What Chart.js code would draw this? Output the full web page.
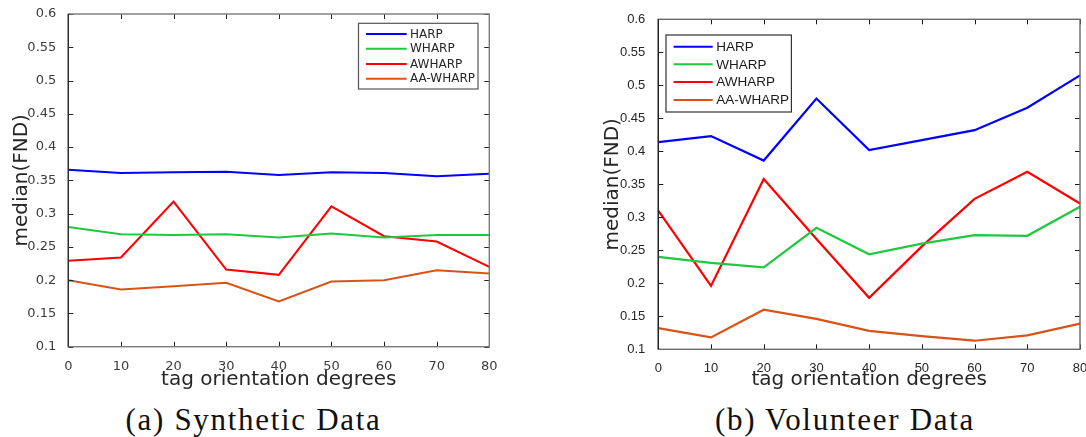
<!DOCTYPE html>
<html>
<head>
<meta charset="utf-8">
<script src="https://cdn.jsdelivr.net/npm/chart.js@4.4.1/dist/chart.umd.min.js"></script>
<style>
  html, body { margin: 0; padding: 0; background: #fff; overflow: hidden; }
  #page { position: relative; width: 1086px; height: 437px; }
  canvas { position: absolute; top: 0; }
  #synthCanvas { left: 0; }
  #volCanvas { left: 543px; }
  .caption {
    position: absolute; top: 405px; height: 32px; line-height: 30px;
    font-family: "Liberation Serif", serif; font-size: 31px; color: #111;
    letter-spacing: 1.7px; text-align: center; white-space: nowrap;
  }
  #capA { left: 0; width: 507px; }
  #capB { left: 591px; width: 508px; }
</style>
</head>
<body>
<div id="page">
  <canvas id="synthCanvas" width="543" height="400"></canvas>
  <canvas id="volCanvas" width="560" height="400"></canvas>
  <div class="caption" id="capA">(a) Synthetic Data</div>
  <div class="caption" id="capB">(b) Volunteer Data</div>
</div>
<script>
// Tag orientation (degrees) on the x axis
const orientationDeg = ['0', '10', '20', '30', '40', '50', '60', '70', '80'];
// y axis tick labels
const yTickLabels = ['0.1', '0.15', '0.2', '0.25', '0.3', '0.35', '0.4', '0.45', '0.5', '0.55', '0.6'];
const seriesNames = ['HARP', 'WHARP', 'AWHARP', 'AA-WHARP'];

// Median FND, synthetic data
const synHARP    = [0.366, 0.361, 0.362, 0.363, 0.358, 0.362, 0.361, 0.356, 0.360];
const synWHARP   = [0.280, 0.269, 0.268, 0.269, 0.264, 0.270, 0.264, 0.268, 0.268];
const synAWHARP  = [0.229, 0.234, 0.318, 0.216, 0.208, 0.311, 0.266, 0.258, 0.220];
const synAAWHARP = [0.200, 0.186, 0.191, 0.196, 0.168, 0.198, 0.200, 0.215, 0.210];

// Median FND, volunteer data
const volHARP    = [0.414, 0.423, 0.386, 0.480, 0.402, 0.417, 0.432, 0.466, 0.515];
const volWHARP   = [0.240, 0.231, 0.224, 0.284, 0.244, 0.260, 0.273, 0.272, 0.316];
const volAWHARP  = [0.310, 0.196, 0.358, 0.267, 0.178, 0.256, 0.328, 0.369, 0.321];
const volAAWHARP = [0.132, 0.118, 0.160, 0.146, 0.128, 0.120, 0.113, 0.121, 0.139];

const lineColors = ['#0000ff', '#20c840', '#ff0000', '#d95319'];

// Boxed axes with inward ticks on all four sides, plus a framed legend
const boxedAxes = {
  id: 'boxedAxes',
  afterDatasetsDraw(chart, args, o) {
    const { ctx, chartArea: a, scales: { x, y } } = chart;
    const L = 5;
    ctx.save();
    ctx.strokeStyle = o.tickColor;
    ctx.lineWidth = 1;
    ctx.beginPath();
    x.ticks.forEach((t, i) => {
      const px = Math.round(x.getPixelForTick(i)) + 0.5;
      ctx.moveTo(px, a.bottom); ctx.lineTo(px, a.bottom - L);
      ctx.moveTo(px, a.top); ctx.lineTo(px, a.top + L);
    });
    y.ticks.forEach((t, i) => {
      const py = Math.round(y.getPixelForTick(i)) + 0.5;
      ctx.moveTo(a.left, py); ctx.lineTo(a.left + L, py);
      ctx.moveTo(a.right, py); ctx.lineTo(a.right - L, py);
    });
    ctx.stroke();

    ctx.strokeStyle = o.boxColor;
    ctx.lineWidth = 1.4;
    ctx.strokeRect(a.left, a.top, a.right - a.left, a.bottom - a.top);
    ctx.strokeStyle = o.axisColor;
    ctx.lineWidth = 1.2;
    ctx.beginPath();
    ctx.moveTo(a.left, a.top); ctx.lineTo(a.left, a.bottom);
    ctx.stroke();

    // legend
    const lg = o.legend;
    ctx.fillStyle = '#fff';
    ctx.fillRect(lg.x0, lg.y0, lg.x1 - lg.x0, lg.y1 - lg.y0);
    ctx.strokeStyle = lg.border;
    ctx.lineWidth = 1.2;
    ctx.strokeRect(lg.x0, lg.y0, lg.x1 - lg.x0, lg.y1 - lg.y0);
    ctx.font = lg.font;
    ctx.textBaseline = 'middle';
    ctx.textAlign = 'left';
    chart.data.datasets.forEach((ds, i) => {
      const ry = lg.rows[i];
      ctx.strokeStyle = ds.borderColor;
      ctx.lineWidth = 2;
      ctx.beginPath();
      ctx.moveTo(lg.lineX0, ry); ctx.lineTo(lg.lineX1, ry);
      ctx.stroke();
      ctx.fillStyle = lg.textColor;
      ctx.fillText(ds.label, lg.textX, ry + 0.5);
    });
    ctx.restore();
  }
};

function tickLabel(value) {
  const hit = yTickLabels.find(l => Math.abs(parseFloat(l) - value) < 1e-6);
  return hit === undefined ? '' : hit;
}

function makeChart(canvasId, series, cfg) {
  return new Chart(document.getElementById(canvasId), {
    type: 'line',
    data: {
      labels: orientationDeg,
      datasets: series.map((vals, i) => ({
        label: seriesNames[i],
        data: vals,
        borderColor: lineColors[i],
        backgroundColor: lineColors[i],
        borderWidth: cfg.lineWidth,
        pointRadius: 0,
        tension: 0,
        fill: false
      }))
    },
    options: {
      responsive: false,
      animation: false,
      devicePixelRatio: 1,
      layout: { padding: cfg.padding },
      plugins: {
        legend: { display: false },
        tooltip: { enabled: false },
        boxedAxes: cfg.frame
      },
      scales: {
        x: {
          type: 'category',
          offset: false,
          grid: { display: false },
          border: { display: false },
          ticks: {
            color: cfg.tickColor, padding: cfg.xTickPad, maxRotation: 0, autoSkip: false,
            font: { family: cfg.tickFamily, size: cfg.tickSize }
          },
          title: {
            display: true, text: 'tag orientation degrees', color: '#262626',
            font: { family: 'DejaVu Sans', size: 20, lineHeight: 1.2 },
            padding: { top: 0, bottom: cfg.xTitlePad }
          },
          afterFit(s) { s.height = cfg.xHeight; }
        },
        y: {
          min: 0.1, max: 0.6,
          grid: { display: false },
          border: { display: false },
          ticks: {
            stepSize: 0.05, color: cfg.tickColor, padding: cfg.yTickPad,
            font: { family: cfg.tickFamily, size: cfg.tickSize },
            callback: v => tickLabel(v)
          },
          title: {
            display: true, text: 'median(FND)', color: '#262626',
            font: { family: 'DejaVu Sans', size: 20, lineHeight: 1.2 },
            padding: { top: cfg.yTitlePad, bottom: 0 }
          },
          afterFit(s) { s.width = cfg.yWidth; }
        }
      }
    },
    plugins: [boxedAxes]
  });
}

makeChart('synthCanvas', [synHARP, synWHARP, synAWHARP, synAAWHARP], {
  padding: { top: 14, right: 53.7, left: 0, bottom: 0 },
  yWidth: 68.3, xHeight: 53.3, lineWidth: 2,
  tickFamily: 'DejaVu Sans', tickSize: 13, tickColor: '#3c3c3c',
  xTickPad: 4, yTickPad: 4, xTitlePad: 8.7, yTitlePad: 9.6,
  frame: {
    tickColor: '#262626', boxColor: '#7a7a7a', axisColor: '#262626',
    legend: {
      x0: 358.5, x1: 478, y0: 23.3, y1: 89,
      lineX0: 366, lineX1: 406.7, textX: 410,
      rows: [34, 48.7, 64, 78.7],
      font: '12px "DejaVu Sans"', textColor: '#262626', border: '#555'
    }
  }
});

makeChart('volCanvas', [volHARP, volWHARP, volAWHARP, volAAWHARP], {
  padding: { top: 19.3, right: 23, left: 0, bottom: 0 },
  yWidth: 115.3, xHeight: 50.7, lineWidth: 2.2,
  tickFamily: 'Liberation Sans', tickSize: 13, tickColor: '#262626',
  xTickPad: 3, yTickPad: 5, xTitlePad: 8.7, yTitlePad: 57.8,
  frame: {
    tickColor: '#1a1a1a', boxColor: '#6a6a6a', axisColor: '#1a1a1a',
    legend: {
      x0: 123, x1: 248.4, y0: 35, y1: 112,
      lineX0: 130.6, lineX1: 169.7, textX: 173.2,
      rows: [46.7, 64.3, 82, 100],
      font: '13.5px "Liberation Sans"', textColor: '#1a1a1a', border: '#333'
    }
  }
});
</script>
</body>
</html>
